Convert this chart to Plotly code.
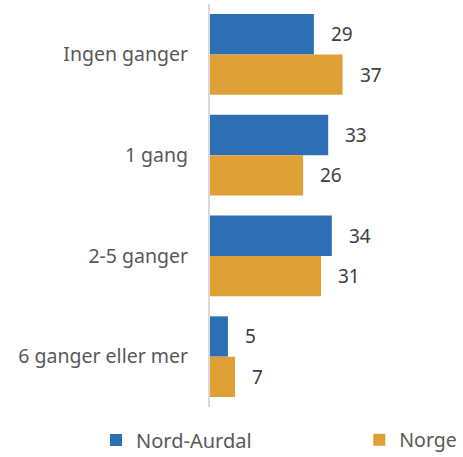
import plotly.graph_objects as go

categories = ["Ingen ganger", "1 gang", "2-5 ganger", "6 ganger eller mer"]
nord_aurdal = [29, 33, 34, 5]
norge = [37, 26, 31, 7]
series_names = ["Nord-Aurdal", "Norge"]
colors = ["#2E6EB5", "#DFA038"]

fig = go.Figure()
legends = ["legend", "legend2"]
for name, vals, col, lg in zip(series_names, [nord_aurdal, norge], colors, legends):
    fig.add_trace(go.Bar(
        y=categories, x=vals, name=name, orientation="h",
        marker=dict(color=col, line=dict(width=0)),
        legend=lg, hoverinfo="x+y",
    ))

# value labels, placed via data coordinates
offsets = [-0.2, 0.2]
for vals, off in zip([nord_aurdal, norge], offsets):
    for j, v in enumerate(vals):
        fig.add_annotation(x=v, y=j + off, xref="x", yref="y", text=str(v),
                           showarrow=False, xanchor="left", xshift=15,
                           font=dict(size=19, color="#404040"))

fig.update_layout(
    width=463, height=457, showlegend=True,
    margin=dict(l=210, r=13, t=4, b=50, autoexpand=False),
    barmode="group", bargap=0.2, bargroupgap=0,
    plot_bgcolor="white", paper_bgcolor="white",
    font=dict(family="Noto Sans", size=19.5, color="#595959"),
    xaxis=dict(range=[0, 67], visible=False),
    yaxis=dict(autorange="reversed", showline=True, linecolor="#d9d9d9",
               linewidth=2, ticks="", ticklabelstandoff=16, showgrid=False,
               automargin=False),
    legend=dict(orientation="h", xref="container", yref="container",
                x=0.2073, xanchor="left", y=0.037, yanchor="middle",
                font=dict(size=20, color="#595959")),
    legend2=dict(orientation="h", xref="container", yref="container",
                 x=0.776, xanchor="left", y=0.037, yanchor="middle",
                 font=dict(size=19.5, color="#595959")),
)
fig.write_html("out.html", config={"displayModeBar": False},
               post_script="document.body.style.margin='0';document.body.style.overflow='hidden';")
